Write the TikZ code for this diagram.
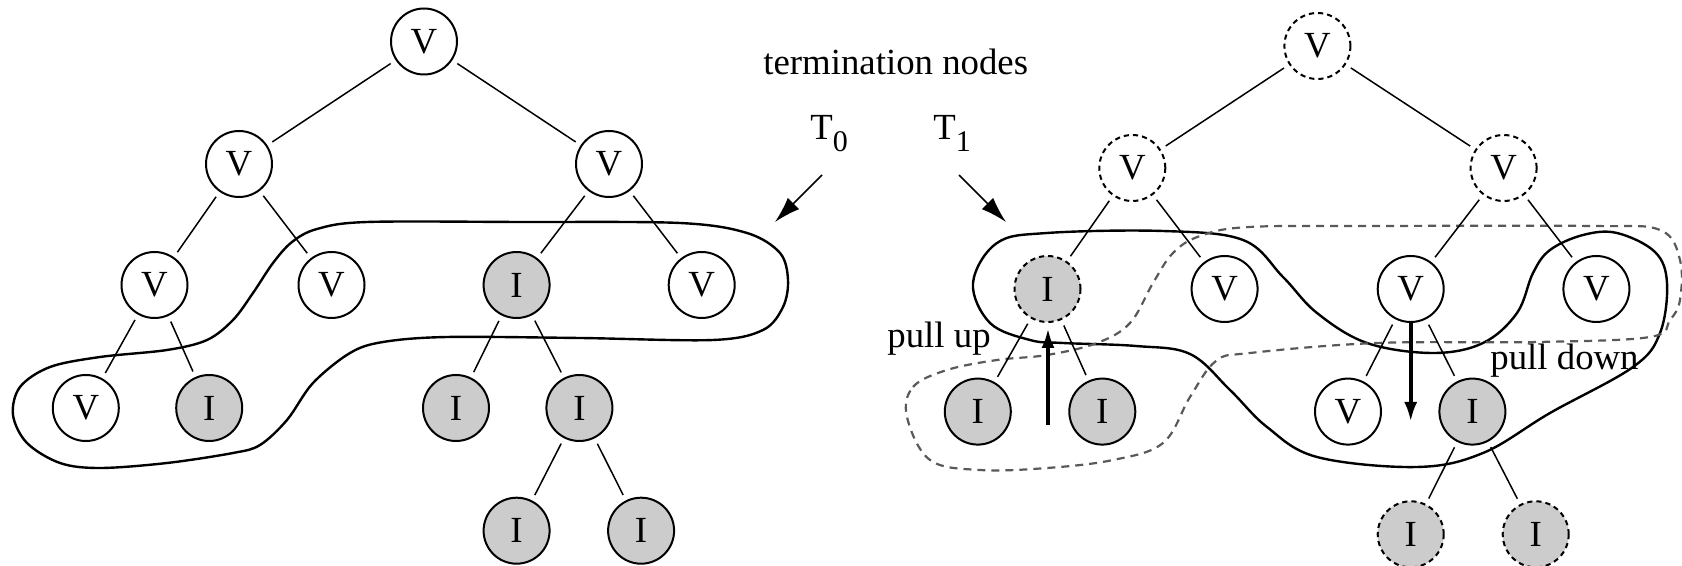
\documentclass[tikz,border=0pt]{standalone}
\usepackage{fontspec}
\setmainfont{Liberation Serif}
\usetikzlibrary{arrows.meta}
\begin{document}
\begin{tikzpicture}[x=0.5pt,y=-0.5pt,
  tn/.style={circle,draw,line width=1pt,minimum size=33pt,inner sep=0pt,font=\fontsize{18.4}{20}\selectfont},
  vnode/.style={tn,fill=white},
  inode/.style={tn,fill=gray!40},
  ghost/.style={dash pattern=on 2.6pt off 2pt},
  edge/.style={line width=0.75pt,shorten <=3pt,shorten >=3pt},
  blob/.style={line width=1.2pt},
  dblob/.style={line width=1.1pt,draw=black!65,dash pattern=on 4pt off 3pt},
  bigarrow/.style={line width=2pt,-{Latex[length=10pt,width=6.5pt]}},
  tarrow/.style={line width=0.8pt,-{Latex[length=13pt,width=8pt]}},
  lbl/.style={font=\fontsize{18.4}{20}\selectfont,inner sep=0pt}
]
\useasboundingbox (0,0) rectangle (1682,566);

% ---- blobs ----
\draw[blob] plot[smooth cycle,tension=0.55] coordinates {
  (367,222) (520,222) (680,223) (747,233) (780,253) (788,280) (783,307) (763,330)
  (713,340) (580,338) (447,337) (383,342) (350,353) (313,383) (287,420)
  (260,445) (233,453) (167,463) (100,468) (60,463) (27,443) (13,415) (20,387)
  (50,367) (100,357) (167,350) (207,340) (233,320) (253,293) (273,263) (292,242) (317,229)};

\draw[blob] plot[smooth cycle,tension=0.6] coordinates {
  (973,283) (997,243) (1047,233) (1163,231) (1243,240) (1283,277) (1317,313)
  (1367,343) (1433,353) (1483,343) (1517,313) (1533,273) (1550,250) (1583,235)
  (1617,233) (1655,252) (1667,283) (1660,333) (1633,367) (1550,413) (1483,453)
  (1417,467) (1317,457) (1267,427) (1230,390) (1190,354) (1136,346) (1063,343)
  (1030,340) (990,323)};

\draw[dblob] plot[smooth cycle,tension=0.6] coordinates {
  (907,417) (913,387) (947,370) (997,360) (1047,355) (1097,343) (1130,323)
  (1153,283) (1173,253) (1200,236) (1249,227) (1377,226) (1592,226) (1660,230)
  (1680,260) (1680,300) (1670,320) (1650,337) (1538,342) (1377,343) (1250,353)
  (1216,361) (1190,397) (1163,443) (1113,460) (1047,468) (980,470) (930,460)};

% ---- left tree ----
\node[vnode] (L0) at (424,41.5) {V};
\node[vnode] (L1) at (239,164) {V};
\node[vnode] (L2) at (609,164) {V};
\node[vnode] (L3) at (154.5,285) {V};
\node[vnode] (L4) at (331.5,285) {V};
\node[inode] (L5) at (516.6,285) {I};
\node[vnode] (L6) at (701.7,285) {V};
\node[vnode] (L7) at (85.8,408) {V};
\node[inode] (L8) at (209.2,408) {I};
\node[inode] (L9) at (456,408) {I};
\node[inode] (L10) at (579.4,408) {I};
\node[inode] (L11) at (516.6,530.7) {I};
\node[inode] (L12) at (641.1,530.7) {I};

\foreach \a/\b in {L0/L1,L0/L2,L1/L3,L1/L4,L2/L5,L2/L6,L3/L7,L3/L8,L5/L9,L5/L10,L10/L11,L10/L12}
  \draw[edge] (\a) -- (\b);

% ---- right tree ----
\node[vnode,ghost] (R0) at (1317.4,46) {V};
\node[vnode,ghost] (R1) at (1132.3,168) {V};
\node[vnode,ghost] (R2) at (1503.6,168) {V};
\node[inode,ghost] (R3) at (1047.5,289) {I};
\node[vnode] (R4) at (1224.6,289) {V};
\node[vnode] (R5) at (1410.7,289) {V};
\node[vnode] (R6) at (1596.4,289) {V};
\node[inode] (R7) at (977.8,411.6) {I};
\node[inode] (R8) at (1102.3,411.6) {I};
\node[vnode] (R9) at (1348,411.6) {V};
\node[inode] (R10) at (1472.4,411.6) {I};
\node[inode,ghost] (R11) at (1410.7,534.3) {I};
\node[inode,ghost] (R12) at (1535.7,534.3) {I};

\foreach \a/\b in {R0/R1,R0/R2,R1/R3,R1/R4,R2/R5,R2/R6,R3/R7,R3/R8,R5/R9,R5/R10,R10/R11,R10/R12}
  \draw[edge] (\a) -- (\b);

% ---- labels ----
\node[lbl,anchor=base west] (term) at (763,75) {termination nodes};
\node[lbl,anchor=base west] (t0) at (810,140) {T\raisebox{-6pt}{\fontsize{15}{16}\selectfont 0}};
\node[lbl,anchor=base west] (t1) at (933,140) {T\raisebox{-6pt}{\fontsize{15}{16}\selectfont 1}};
\node[lbl,anchor=base west] (pu) at (887,348) {pull up};
\node[lbl,anchor=base west] (pd) at (1490,370) {pull down};

% ---- arrows ----
\coordinate (t0s) at (822,175);
\coordinate (t0e) at (775,222);
\coordinate (t1s) at (959,175);
\coordinate (t1e) at (1006,222);
\draw[tarrow] (t0s) -- (t0e);
\draw[tarrow] (t1s) -- (t1e);

\coordinate (pus) at (1048,425);
\coordinate (pue) at (1048,328);
\coordinate (pds) at (1410.7,323);
\coordinate (pde) at (1410.7,422);
\draw[bigarrow] (pus) -- (pue);
\draw[bigarrow] (pds) -- (pde);
\end{tikzpicture}
\end{document}
